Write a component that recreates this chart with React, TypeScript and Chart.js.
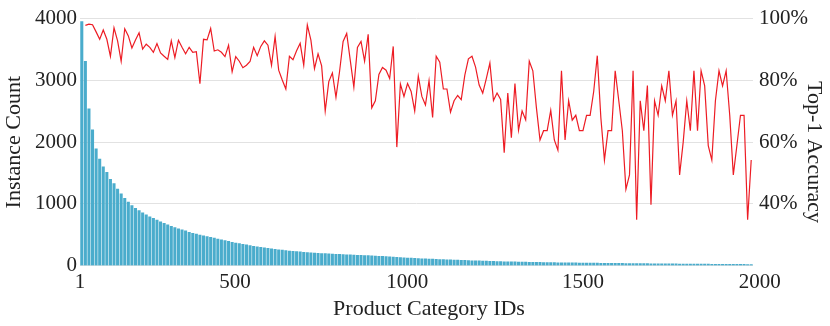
import React, { useEffect, useRef } from "react";
import { Chart, registerables } from "chart.js";

Chart.register(...registerables);

// Instance count per category bin (sorted, descending)
const BIN_COUNTS = [
  3950, 3310, 2540, 2200, 1890, 1725, 1600, 1510, 1400, 1330,
  1240, 1165, 1090, 1030, 975, 930, 893, 855, 822, 790,
  765, 738, 710, 686, 662, 638, 618, 598, 580, 563,
  540, 525, 510, 497, 485, 473, 460, 448, 430, 418,
  406, 394, 380, 368, 357, 346, 336, 325, 315, 306,
  297, 289, 281, 273, 265, 258, 251, 244, 238, 233,
  228, 223, 218, 213, 209, 205, 201, 198, 195, 192,
  189, 186, 183, 180, 177, 175, 172, 169, 167, 164,
  162, 159, 156, 153, 150, 146, 143, 140, 136, 133,
  128, 125, 122, 119, 116, 113, 111, 108, 106, 103,
  100, 98, 96, 94, 92, 90, 88, 85, 83, 80,
  79, 77, 75, 74, 72, 70, 68, 66, 64, 63,
  62, 61, 60, 58, 57, 56, 55, 54, 53, 52,
  51, 50, 49, 48, 48, 47, 46, 45, 45, 44,
  43, 43, 42, 42, 41, 40, 40, 39, 39, 38,
  37, 37, 36, 36, 35, 34, 34, 33, 33, 32,
  32, 31, 31, 30, 30, 29, 29, 28, 28, 27,
  27, 26, 26, 26, 25, 25, 24, 24, 24, 23,
  23, 22, 22, 22, 21, 21, 20, 20,
];

// Top-1 accuracy (%) per bin
const ACCURACY = [
  97.8, 98.2, 98.0, 95.7, 93.3, 96.3, 93.3, 87.8, 97.0, 92.8,
  86.2, 96.7, 94.4, 90.5, 93.1, 95.4, 90.1, 91.7, 90.7, 89.1,
  91.9, 88.9, 87.8, 86.8, 92.8, 87.4, 93.0, 90.7, 88.6, 90.7,
  89.1, 89.3, 78.9, 93.3, 93.1, 96.8, 89.5, 89.9, 89.1, 87.7,
  91.4, 82.8, 87.7, 86.2, 84.1, 84.9, 86.1, 90.7, 88.0, 91.0,
  92.8, 91.4, 84.9, 94.2, 83.3, 80.1, 77.2, 87.8, 86.7, 89.6,
  92.0, 84.9, 97.9, 93.0,
  83.8, 88.6, 84.7, 70.1, 79.6, 82.4, 74.5, 82.8, 92.6, 95.2,
  86.5, 77.8, 90.7, 92.6, 86.2, 94.9, 71.1, 73.4, 81.9, 84.2,
  83.3, 80.6, 91.0, 58.4, 78.8, 74.8, 79.0, 76.4, 70.1, 81.4,
  74.8, 72.0, 79.9, 68.0, 87.8, 85.9, 77.2, 77.2, 69.7, 73.4,
  75.1, 73.8, 81.7, 87.0, 87.8, 84.3, 78.5, 75.9, 80.6, 85.6,
  73.5, 75.9, 73.8, 56.6, 75.9, 61.4, 79.0, 63.9, 70.1, 67.2,
  86.2, 83.1, 71.1, 60.7,
  63.7, 63.7, 70.3, 60.7, 57.4, 83.1, 60.7, 73.4, 67.1, 68.7,
  63.7, 63.7, 68.7, 68.7, 76.4, 88.0, 67.9, 54.2, 63.7, 63.7,
  83.1, 73.5, 63.7, 44.7, 49.4, 83.1, 34.9, 73.4, 63.7, 78.3,
  39.7, 73.4, 68.7, 78.2, 73.4, 83.1, 68.7, 73.4, 49.4, 60.0,
  73.4, 63.7, 83.1, 63.7, 83.1, 78.2, 58.9, 54.2, 73.4, 83.1,
  78.2, 83.1, 68.7, 49.4, 58.9, 68.7, 68.7, 34.9, 54.2,
];

// x tick labels (category IDs) and the bin positions where they sit
const TICK_LABELS = ["1", "500", "1000", "1500", "2000"];
const TICK_BINS = [-0.5, 42.8, 90.9, 140, 189.4];

const COUNT_TICKS = [0, 1000, 2000, 3000, 4000];
const ACC_TICKS = [20, 40, 60, 80, 100];

const X_TITLE = "Product Category IDs";
const Y_TITLE = "Instance Count";
const Y2_TITLE = "Top-1 Accuracy";

const FONT = "'Liberation Serif', 'Times New Roman', serif";
const TEXT = "#222222";
const BAR_COLOR = "rgb(74,172,204)";
const LINE_COLOR = "rgb(237,28,36)";
const GRID = "#e2e2e2";

const titlePlugin = {
  id: "extraTitles",
  afterDraw(chart: any) {
    const { ctx } = chart;
    ctx.save();
    ctx.fillStyle = TEXT;
    ctx.font = `22px ${FONT}`;
    ctx.textAlign = "center";
    ctx.textBaseline = "alphabetic";
    ctx.fillText(X_TITLE, 429, 314.5);
    ctx.translate(808, 152);
    ctx.rotate(Math.PI / 2);
    ctx.fillText(Y2_TITLE, 0, 0);
    ctx.restore();
  },
};

export default function App() {
  const ref = useRef<HTMLCanvasElement | null>(null);

  useEffect(() => {
    if (!ref.current) return;
    const bars = BIN_COUNTS.map((c, i) => ({ x: i, y: c }));
    const line = ACCURACY.map((a, j) => ({ x: j + 1, y: a }));
    const chart = new Chart(ref.current, {
      type: "bar",
      data: {
        datasets: [
          {
            type: "line",
            data: line,
            xAxisID: "x",
            yAxisID: "y1",
            borderColor: LINE_COLOR,
            borderWidth: 1.2,
            pointRadius: 0,
            tension: 0,
            fill: false,
            order: 0,
          } as any,
          {
            type: "bar",
            data: bars,
            xAxisID: "x",
            yAxisID: "y",
            backgroundColor: BAR_COLOR,
            borderWidth: 0,
            barThickness: 2.4,
            order: 1,
          } as any,
        ],
      },
      options: {
        animation: false,
        responsive: true,
        maintainAspectRatio: false,
        events: [],
        layout: { padding: { top: 14, left: 0, right: 0, bottom: 0 } },
        plugins: { legend: { display: false }, tooltip: { enabled: false } },
        scales: {
          x: {
            type: "linear",
            offset: false,
            min: -0.5,
            max: BIN_COUNTS.length - 0.5,
            grid: { display: false, drawTicks: false, offset: false },
            border: { display: false },
            afterBuildTicks: (scale: any) => {
              scale.ticks = TICK_BINS.map((v) => ({ value: v }));
            },
            afterFit: (scale: any) => {
              scale.height = 60.3;
            },
            ticks: {
              autoSkip: false,
              maxRotation: 0,
              padding: 4,
              color: TEXT,
              font: { family: FONT, size: 21 },
              callback: (_v: any, i: number) => TICK_LABELS[i],
            },
          },
          y: {
            type: "linear",
            position: "left",
            min: 0,
            max: 4000,
            grid: { color: GRID, lineWidth: 1, drawTicks: false },
            border: { display: false },
            afterBuildTicks: (scale: any) => {
              scale.ticks = COUNT_TICKS.map((v) => ({ value: v }));
            },
            afterFit: (scale: any) => {
              scale.width = 80;
            },
            ticks: {
              padding: 3,
              color: TEXT,
              font: { family: FONT, size: 21 },
              callback: (v: any) => String(v),
            },
            title: {
              display: true,
              text: Y_TITLE,
              color: TEXT,
              font: { family: FONT, size: 22 },
              padding: { top: 1, bottom: 0 },
            },
          },
          y1: {
            type: "linear",
            position: "right",
            min: 20,
            max: 100,
            grid: { display: false, drawTicks: false },
            border: { display: false },
            afterBuildTicks: (scale: any) => {
              scale.ticks = ACC_TICKS.map((v) => ({ value: v }));
            },
            afterFit: (scale: any) => {
              scale.width = 77;
            },
            ticks: {
              padding: 6,
              color: TEXT,
              font: { family: FONT, size: 21 },
              callback: (v: any) => (v === 20 ? "" : `${v}%`),
            },
          },
        },
      },
      plugins: [titlePlugin],
    });
    return () => chart.destroy();
  }, []);

  return (
    <div style={{ position: "absolute", left: 0, top: 0, width: 830, height: 326, background: "#fff" }}>
      <canvas ref={ref} />
    </div>
  );
}
